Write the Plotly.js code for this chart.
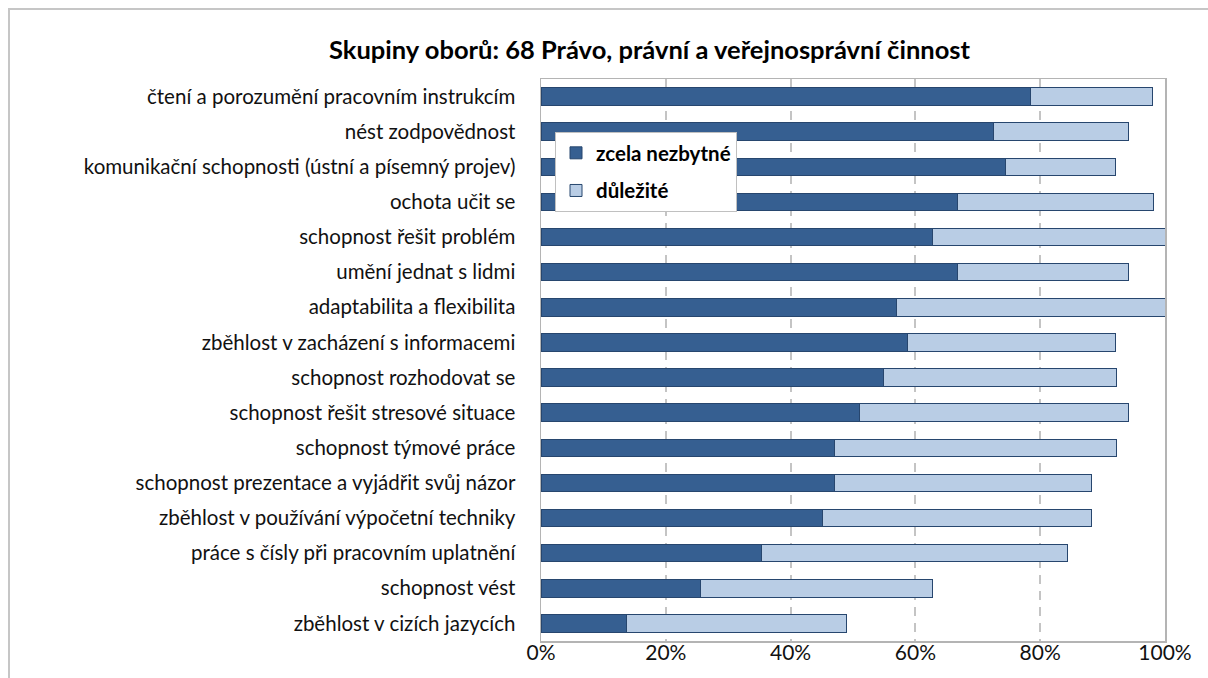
<!DOCTYPE html>
<html>
<head>
<meta charset="utf-8">
<script src="https://cdn.plot.ly/plotly-3.0.1.min.js"></script>
<style>
  body { margin: 0; background: #fff; }
  #chart { width: 1208px; height: 678px; }
  #frame {
    position: absolute; left: 8px; top: 8px; width: 1300px; height: 800px;
    border: 2px solid #c6c6c6; pointer-events: none;
  }
</style>
</head>
<body>
<div id="chart"></div>
<div id="frame"></div>
<script>
const CATEGORIES = [
    'čtení a porozumění pracovním instrukcím',
    'nést zodpovědnost',
    'komunikační schopnosti (ústní a písemný projev)',
    'ochota učit se',
    'schopnost řešit problém',
    'umění jednat s lidmi',
    'adaptabilita a flexibilita',
    'zběhlost v zacházení s informacemi',
    'schopnost rozhodovat se',
    'schopnost řešit stresové situace',
    'schopnost týmové práce',
    'schopnost prezentace a vyjádřit svůj názor',
    'zběhlost v používání výpočetní techniky',
    'práce s čísly při pracovním uplatnění',
    'schopnost vést',
    'zběhlost v cizích jazycích',
];

// percent of respondents
const ZCELA_NEZBYTNE = [78.4, 72.5, 74.5, 66.7, 62.7, 66.7, 56.9, 58.8, 54.9, 51.0, 47.1, 47.1, 45.1, 35.3, 25.5, 13.7];
const DULEZITE =       [19.6, 21.6, 17.6, 31.4, 37.3, 27.5, 43.1, 33.3, 37.3, 43.1, 45.1, 41.2, 43.1, 49.0, 37.3, 35.3];

const X_TICKS = [0, 20, 40, 60, 80, 100];
const X_TICK_LABELS = ['0%', '20%', '40%', '60%', '80%', '100%'];

const FONT = 'Lato, "Liberation Sans", sans-serif';
const EDGE = '#27466e';

const data = [{
    type: 'bar',
    orientation: 'h',
    name: 'zcela nezbytné',
    legendgroup: 'a',
    y: CATEGORIES,
    x: ZCELA_NEZBYTNE,
    marker: { color: '#365f91', line: { color: EDGE, width: 1 } },
    hoverinfo: 'skip',
}, {
    type: 'bar',
    orientation: 'h',
    name: 'důležité',
    legendgroup: 'b',
    y: CATEGORIES,
    x: DULEZITE,
    marker: { color: '#b9cde5', line: { color: EDGE, width: 1 } },
    hoverinfo: 'skip',
}];

const layout = {
    width: 1208,
    height: 678,
    paper_bgcolor: 'rgba(0,0,0,0)',
    plot_bgcolor: '#fff',
    font: { family: FONT, color: '#111', size: 21 },
    margin: { t: 79, r: 43, b: 37, l: 541 },
    barmode: 'stack',
    bargap: 0.5,
    title: {
        text: '<b>Skupiny oborů: 68 Právo, právní a veřejnosprávní činnost</b>',
        font: { family: FONT, size: 25.5, color: '#000' },
        xref: 'container', yref: 'container',
        x: 649.5 / 1208, xanchor: 'center',
        y: 1 - 50 / 678, yanchor: 'middle',
    },
    xaxis: {
        range: [0, 100],
        tickmode: 'array',
        tickvals: X_TICKS,
        ticktext: X_TICK_LABELS,
        ticks: '',
        ticklabelstandoff: -8,
        showgrid: true,
        gridcolor: '#c4c4c4',
        gridwidth: 2,
        griddash: '9px,7px',
        showline: true,
        linecolor: '#b4b4b4',
        linewidth: 1.5,
        mirror: true,
        zeroline: false,
        tickfont: { size: 21 },
        fixedrange: true,
    },
    yaxis: {
        autorange: 'reversed',
        ticks: '',
        showgrid: false,
        showline: true,
        linecolor: '#b4b4b4',
        linewidth: 1.5,
        mirror: true,
        ticklabelstandoff: 20,
        tickfont: { size: 20.5 },
        fixedrange: true,
    },
    showlegend: true,
    legend: {
        x: 14 / 624, xanchor: 'left',
        y: (641 - 132) / 562, yanchor: 'top',
        bgcolor: '#fff',
        bordercolor: '#c0c0c0',
        borderwidth: 1,
        traceorder: 'grouped',
        tracegroupgap: 8,
        font: { family: FONT, size: 20.5, color: '#000', weight: 'bold' },
    },
};

Plotly.newPlot('chart', data, layout, { displayModeBar: false, staticPlot: true });
</script>
</body>
</html>
